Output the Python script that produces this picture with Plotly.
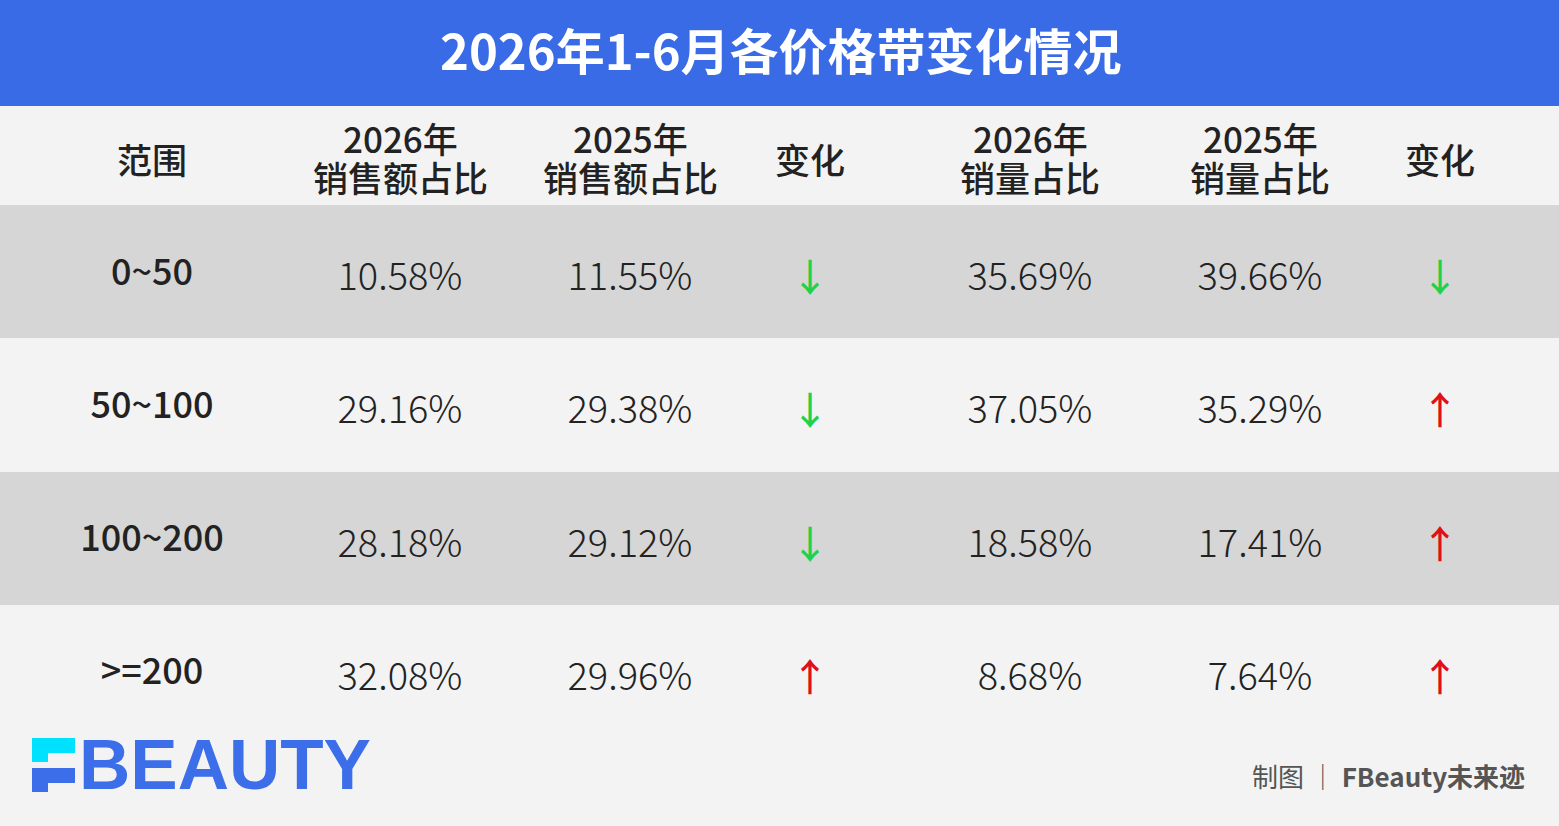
import plotly.graph_objects as go

###############################################################################
# Data
###############################################################################
title = "2026年1-6月各价格带变化情况"
ranges = ["0~50", "50~100", "100~200", ">=200"]
sales_2026 = [10.58, 29.16, 28.18, 32.08]
sales_2025 = [11.55, 29.38, 29.12, 29.96]
volume_2026 = [35.69, 37.05, 18.58, 8.68]
volume_2025 = [39.66, 35.29, 17.41, 7.64]
header_top = ["", "2026年", "2025年", "", "2026年", "2025年", ""]
header_bottom = ["范围", "销售额占比", "销售额占比", "变化", "销量占比", "销量占比", "变化"]
credit_label = "制图"
credit_name = "FBeauty未来迹"

###############################################################################
# Layout constants
###############################################################################
W, H = 1559, 826
TABLE_TOP, TABLE_BOTTOM = 205, 738
col_x = [152, 400, 630, 810, 1030, 1260, 1440]
FONT = "Noto Sans CJK SC"
BLUE = "#3A6BE6"
BG = "#F3F3F3"
BAND = "#D6D6D6"
TEXT = "#222222"
GREEN = "#1ED24C"
RED = "#E0101A"
ROW_PX = (TABLE_BOTTOM - TABLE_TOP) / len(ranges)


def py(p):
    # pixel row -> paper y (margins are zero)
    return 1 - p / H


def pct(vals):
    return ["{:.2f}%".format(v) for v in vals]


def arrows(new, old):
    sym = ["↑" if n > o else "↓" for n, o in zip(new, old)]
    col = [RED if n > o else GREEN for n, o in zip(new, old)]
    return sym, col


def cat_axis(shift_px=0, overlay=None):
    # shift_px moves the text down by that many pixels
    d = shift_px / ROW_PX
    ax = dict(type="category", categoryorder="array", categoryarray=ranges,
              range=[len(ranges) - 0.5 - d, -0.5 - d],
              visible=False, fixedrange=True)
    if overlay:
        ax["overlaying"] = overlay
    else:
        ax["domain"] = [py(TABLE_BOTTOM), py(TABLE_TOP)]
    return ax


fig = go.Figure()

# alternating row bands
fig.add_trace(go.Bar(
    y=ranges, x=[W] * len(ranges), base=0, orientation="h", width=1,
    marker=dict(color=[BAND if i % 2 == 0 else BG for i in range(len(ranges))],
                line=dict(width=0)),
    hoverinfo="skip", showlegend=False))

# range column
fig.add_trace(go.Scatter(
    x=[col_x[0]] * len(ranges), y=ranges, mode="text", text=ranges,
    yaxis="y3",
    textfont=dict(family=FONT, size=36, color=TEXT, weight=500),
    hoverinfo="skip", showlegend=False))

# value columns
for xi, vals in zip([col_x[1], col_x[2], col_x[4], col_x[5]],
                    [sales_2026, sales_2025, volume_2026, volume_2025]):
    fig.add_trace(go.Scatter(
        x=[xi] * len(ranges), y=ranges, mode="text", text=pct(vals),
        yaxis="y2",
        textfont=dict(family=FONT, size=38, color=TEXT, weight=300),
        hoverinfo="skip", showlegend=False))

# change columns
for xi, new, old in [(col_x[3], sales_2026, sales_2025),
                     (col_x[6], volume_2026, volume_2025)]:
    sym, col = arrows(new, old)
    fig.add_trace(go.Scatter(
        x=[xi] * len(ranges), y=ranges, mode="text", text=sym,
        yaxis="y4",
        textfont=dict(family=FONT, size=38, color=col, weight=500),
        hoverinfo="skip", showlegend=False))

annotations = []
# title
annotations.append(dict(
    x=781 / W, y=py(48), xref="paper", yref="paper", showarrow=False,
    text="<b>" + title + "</b>", xanchor="center", yanchor="middle",
    font=dict(family=FONT, size=49, color="white")))

# headers
for xi, top, bottom in zip(col_x, header_top, header_bottom):
    if top:
        annotations.append(dict(
            x=xi / W, y=py(138), xref="paper", yref="paper", showarrow=False,
            text=top, xanchor="center", yanchor="middle",
            font=dict(family=FONT, size=35, color=TEXT, weight=500)))
        annotations.append(dict(
            x=xi / W, y=py(176), xref="paper", yref="paper", showarrow=False,
            text=bottom, xanchor="center", yanchor="middle",
            font=dict(family=FONT, size=35, color=TEXT, weight=500)))
    else:
        annotations.append(dict(
            x=xi / W, y=py(158), xref="paper", yref="paper", showarrow=False,
            text=bottom, xanchor="center", yanchor="middle",
            font=dict(family=FONT, size=35, color=TEXT, weight=500)))

# logo text
annotations.append(dict(
    x=77 / W, y=py(764), xref="paper", yref="paper", showarrow=False,
    text="<b>BEAUTY</b>", xanchor="left", yanchor="middle",
    font=dict(family="Liberation Sans", size=71, color="#3B6EE8")))

# credit
annotations.append(dict(
    x=1527 / W, y=py(775), xref="paper", yref="paper", showarrow=False,
    text=credit_label + " ｜ <b>" + credit_name + "</b>",
    xanchor="right", yanchor="middle",
    font=dict(family=FONT, size=26, color="#555555")))

shapes = [
    # title bar
    dict(type="rect", xref="paper", yref="paper", x0=0, x1=1, y0=py(106), y1=1,
         fillcolor=BLUE, line=dict(width=0), layer="below"),
    # logo mark
    dict(type="rect", xref="paper", yref="paper", x0=32 / W, x1=75 / W,
         y0=py(753), y1=py(738), fillcolor="#00E1FF", line=dict(width=0)),
    dict(type="rect", xref="paper", yref="paper", x0=32 / W, x1=48 / W,
         y0=py(762), y1=py(753), fillcolor="#00E1FF", line=dict(width=0)),
    dict(type="rect", xref="paper", yref="paper", x0=32 / W, x1=75 / W,
         y0=py(783), y1=py(768), fillcolor="#3B6EE8", line=dict(width=0)),
    dict(type="rect", xref="paper", yref="paper", x0=32 / W, x1=48 / W,
         y0=py(792), y1=py(783), fillcolor="#3B6EE8", line=dict(width=0)),
]

fig.update_layout(
    width=W, height=H,
    margin=dict(l=0, r=0, t=0, b=0),
    paper_bgcolor=BG, plot_bgcolor=BG,
    xaxis=dict(range=[0, W], domain=[0, 1], visible=False, fixedrange=True),
    yaxis=cat_axis(),
    yaxis2=cat_axis(9, overlay="y"),
    yaxis3=cat_axis(4, overlay="y"),
    yaxis4=cat_axis(10, overlay="y"),
    bargap=0,
    annotations=annotations,
    shapes=shapes,
    showlegend=False,
)

fig.write_html("out.html", config={"displayModeBar": False},
               post_script="document.body.style.margin='0';")
